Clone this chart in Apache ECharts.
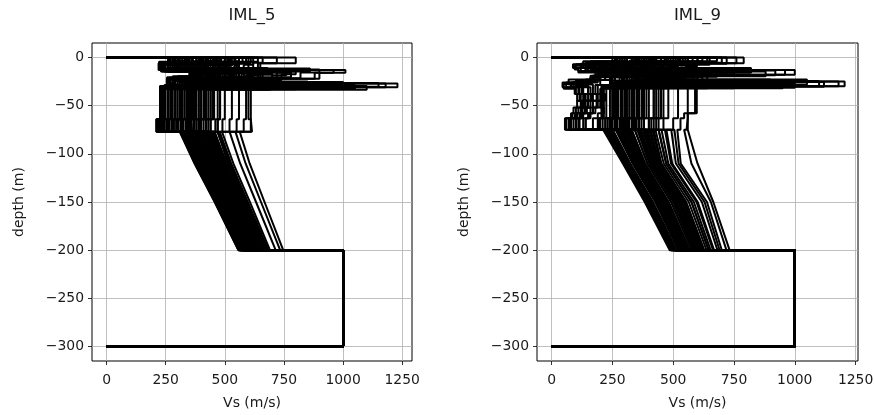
<!DOCTYPE html>
<html><head><meta charset="utf-8">
<script src="https://cdn.jsdelivr.net/npm/echarts@6/dist/echarts.min.js"></script>
<style>html,body{margin:0;padding:0;background:#fff}#c{width:874px;height:415px}</style>
</head><body><div id="c"></div>
<script>
// ---- shared ticks ----
const xTicks = [0, 250, 500, 750, 1000, 1250];
const yTicks = [0, -50, -100, -150, -200, -250, -300];
const titles = ['IML_5', 'IML_9'];
const xName = 'Vs (m/s)';
const yName = 'depth (m)';
const bedrockVs = 1000;
const bedrockTop = -200;
const profileBottom = -300;

// ---- IML_5 : layer boundaries (m) and Vs per layer for each profile ----
const iml5Bounds = [0, -6, -13, -16, -22, -27, -31, -64, -77];
const iml5Shift = [0,-1.5,1,-0.5,2,-2,0.5,1.5,-1,0,2.5,-2.5,1,-1.5,0,0.5,-0.5,2,-2,1.5,-1,0,1,-2,0.5,2,-1,-0.5,1.5,-1.5,
  0.5,-1,1.5,-2,0,1,-1.5,2,-0.5,1,-2.5,0,1.5,-1,2,-1.5,0.5,-0.5,2.5,-2,1,0,-1,0.5,-1.5,1.5,-0.5,2,-2,0];
const iml5L1 = [260,300,420,350,480,520,280,600,380,450,330,560,410,290,800,470,360,540,310,640,400,500,270,430,590,340,460,390,510,620,
  270,320,380,440,500,560,290,350,410,470,530,610,265,335,395,455,515,575,305,365,425,485,545,660,285,345,405,465,525,720];
const iml5L2 = [220,250,300,330,380,420,240,460,350,500,280,540,410,230,650,470,320,560,260,600,390,440,225,360,520,300,480,340,400,580,
  230,270,320,380,430,490,245,300,360,410,470,550,222,290,340,400,450,510,260,310,370,420,480,620,235,295,350,415,460,640];
const iml5L3 = [380,420,450,520,600,700,400,650,480,560,430,760,540,390,1010,620,470,680,410,860,500,580,385,460,720,440,610,490,530,800,
  390,430,480,540,600,680,400,460,520,570,640,780,385,450,500,550,620,700,420,470,530,590,660,900,395,455,510,580,630,960];
const iml5L4 = [350,400,430,480,560,640,380,600,450,520,410,700,500,370,900,580,440,620,390,780,470,540,360,430,660,420,570,460,500,740,
  360,400,450,500,560,620,370,430,480,530,590,720,355,420,470,520,580,650,390,440,490,550,610,820,365,425,475,540,600,880];
const iml5L5 = [255,280,320,360,400,450,270,480,340,420,300,500,380,260,560,430,330,470,290,520,370,410,265,350,460,310,440,345,390,490,
  258,290,330,370,410,460,265,310,350,395,440,510,256,300,340,385,425,475,280,320,360,405,450,530,262,305,345,400,445,545];
const iml5L6 = [260,300,500,420,650,800,280,900,450,700,350,1100,600,270,1230,750,400,850,320,1000,550,680,290,480,950,380,720,520,620,1050,
  270,330,430,520,620,760,290,380,470,580,690,980,265,360,440,540,650,820,310,400,500,600,720,1150,280,370,460,560,700,1180];
const iml5L7 = [228,250,300,340,380,420,240,450,320,400,270,500,360,235,610,430,310,470,260,560,350,390,232,330,480,290,440,345,370,530,
  230,260,300,345,390,440,238,280,320,365,410,480,226,270,310,355,400,455,245,290,330,375,420,590,234,275,315,360,415,600];
const iml5L8 = [212,240,280,320,360,410,230,440,300,390,255,490,350,222,615,420,295,460,245,550,340,380,218,315,470,275,430,335,365,520,
  215,245,285,325,370,420,225,265,305,345,390,470,210,255,295,335,380,440,235,275,315,355,400,580,220,260,300,340,395,610];
const iml5GradDepths = [-77, -110, -150, -200];
const iml5G1 = [309,328,384,351,412,431,318,469,365,398,342,450,380,323,563,408,356,441,333,488,375,422,314,389,464,347,403,370,427,478,
  314,337,365,394,422,450,323,351,380,408,436,474,311,344,372,401,429,457,330,358,387,415,443,520,321,349,377,406,434,545];
const iml5G2 = [372,389,441,411,466,484,380,519,423,454,402,501,437,385,605,463,415,493,394,536,432,475,377,446,514,407,458,428,480,527,
  377,398,423,450,476,501,385,411,437,463,488,523,374,404,430,456,482,508,391,417,444,469,495,565,383,409,434,461,487,588];
const iml5G3 = [457,473,519,492,542,558,464,590,503,531,484,574,516,469,668,539,496,567,477,606,512,551,461,523,586,489,535,508,555,597,
  461,480,503,528,551,574,469,492,516,539,562,594,459,486,509,533,557,580,474,498,522,545,568,632,467,490,513,538,561,653];
const iml5G4 = [557,571,613,588,634,648,564,677,599,624,582,662,610,567,747,631,592,656,575,691,606,642,561,617,674,585,627,603,645,684,
  561,578,599,621,642,662,567,588,610,631,652,680,558,583,604,626,647,668,573,594,615,636,657,715,566,587,608,630,651,734];

// ---- IML_9 ----
const iml9Bounds = [0, -6, -10, -13, -18, -25, -30, -38, -45, -52, -58, -63, -75];
const iml9Shift = [1,-1,0.5,-2,1.5,0,-0.5,2,-1.5,1,-2.5,0.5,2,-1,0,-2,1,-0.5,1.5,-1.5,2.5,0,-1,1,-2,0.5,1.5,-0.5,-1.5,2,
  -1,1.5,0,-2,2,-0.5,1,-1.5,0.5,2.5,-1,0,-2.5,1,-0.5,1.5,-2,0.5,2,-1,0,1,-1.5,-0.5,2,-2,0.5,1.5,-1,0];
const iml9L1  = [300,250,420,380,500,550,280,620,350,450,330,700,410,260,790,470,360,560,310,650,400,520,270,430,600,340,480,390,510,680,
  280,330,390,450,510,580,300,360,420,480,540,640,265,345,405,465,525,600,290,370,430,490,560,720,310,355,415,475,530,760];
const iml9L2  = [150,88,260,300,350,420,120,480,250,400,200,520,330,100,597,440,280,500,180,560,320,380,130,290,460,220,410,310,370,540,
  120,180,240,300,360,430,140,210,270,330,400,500,95,195,255,315,380,460,130,225,285,345,415,560,160,205,265,325,390,580];
const iml9L3  = [180,110,240,280,330,400,140,450,230,380,190,500,310,120,560,420,260,470,170,530,300,360,150,270,440,210,390,290,350,510,
  140,200,250,300,350,420,160,220,270,320,390,480,110,210,260,310,370,450,150,230,280,340,400,530,175,215,265,315,380,550];
const iml9L4  = [300,320,400,450,520,600,310,650,420,560,360,750,480,295,1000,620,440,700,340,880,500,580,330,430,680,380,610,470,540,820,
  310,360,420,480,550,630,320,390,450,510,590,720,300,380,440,500,570,660,315,400,460,520,610,920,330,385,445,505,580,960];
const iml9L5  = [200,160,300,330,380,430,180,470,290,410,240,520,350,170,640,450,310,490,220,580,340,400,190,320,480,260,440,330,390,550,
  170,220,280,330,380,440,190,250,300,350,410,500,160,240,290,340,395,470,180,260,310,360,420,600,200,245,295,345,400,620];
const iml9L6  = [100,45,500,420,650,800,90,900,450,700,300,1100,600,60,1205,750,400,850,200,1000,550,680,120,480,950,350,720,520,620,1050,
  80,250,380,480,600,740,110,300,420,540,680,950,50,280,400,500,640,820,70,320,440,560,700,1120,140,290,410,520,660,1180];
const iml9L7  = [130,100,240,270,320,370,150,420,250,350,200,460,300,110,597,400,260,440,180,520,290,340,160,265,430,210,380,285,330,480,
  115,190,250,290,335,390,150,215,265,310,360,450,95,205,255,300,350,420,125,225,275,320,375,560,170,210,260,305,355,590];
const iml9L8  = [150,120,240,270,320,370,170,420,250,350,190,460,300,130,597,400,260,440,160,520,290,340,140,265,430,220,380,285,330,480,
  135,200,250,290,335,390,165,215,265,310,360,450,115,205,255,300,350,420,105,225,275,320,375,560,185,210,260,305,355,590];
const iml9L9  = [170,105,240,270,320,370,140,420,250,350,210,460,300,150,597,400,260,440,190,520,290,340,125,265,430,200,380,285,330,480,
  160,185,250,290,335,390,130,215,265,310,360,450,135,205,255,300,350,420,120,225,275,320,375,560,150,210,260,305,355,590];
const iml9L10 = [140,90,240,270,320,370,160,420,250,350,180,460,300,120,597,400,260,440,170,520,290,340,110,265,430,215,380,285,330,480,
  125,170,250,290,335,390,145,215,265,310,360,450,100,205,255,300,350,420,140,225,275,320,375,560,135,210,260,305,355,590];
const iml9L11 = [120,80,240,270,320,370,130,420,250,350,160,460,300,100,560,400,260,440,150,520,290,340,95,265,430,190,380,285,330,480,
  105,155,250,290,335,390,120,215,265,310,360,450,85,205,255,300,350,420,115,225,275,320,375,545,125,210,260,305,355,560];
const iml9L12 = [100,55,220,250,300,350,110,400,230,330,140,440,280,80,560,380,240,420,130,500,270,320,70,245,410,170,360,265,310,460,
  90,140,230,270,315,370,100,200,250,295,345,430,60,190,240,285,335,400,75,210,260,305,360,530,115,195,245,290,340,555];
const iml9GradDepths = [-75, -110, -150, -200];
const iml9G1 = [245,212,323,297,375,407,232,452,277,342,264,505,316,219,563,355,284,414,251,472,310,388,225,329,440,271,362,303,381,492,
  232,264,303,342,381,427,245,284,323,362,401,466,222,274,313,352,391,440,238,290,329,368,414,517,251,280,319,358,394,545];
const iml9G2 = [319,293,380,359,420,445,309,480,344,394,334,522,374,298,600,405,349,451,323,496,369,430,303,384,471,339,410,364,425,511,
  309,334,364,394,425,461,319,349,380,410,440,491,301,341,372,402,433,471,313,354,384,415,451,531,323,346,376,407,435,575];
const iml9G3 = [411,383,476,454,520,547,400,585,438,492,427,629,470,389,665,503,443,553,416,601,465,531,394,481,575,433,509,459,525,618,
  400,427,459,492,525,564,411,443,476,509,542,596,391,435,468,501,533,575,405,449,481,514,553,639,416,440,473,506,536,655];
const iml9G4 = [509,486,564,546,600,623,500,654,532,577,522,691,559,491,732,586,536,627,513,668,555,609,495,568,646,527,591,550,604,682,
  500,522,550,577,604,637,509,536,564,591,618,664,493,529,557,584,611,646,504,541,568,595,627,700,513,534,561,588,613,719];

// ---- build profile polylines from the arrays ----
function buildProfiles(bounds, shift, layers, gradDepths, grads) {
  const out = [];
  const n = layers[0].length;
  for (let i = 0; i < n; i++) {
    const b = bounds.map(d => (d < 0 && d > -35 ? d + shift[i] : d));
    const pts = [[0, b[0]]];
    for (let k = 0; k < layers.length; k++) {
      pts.push([layers[k][i], b[k]]);
      pts.push([layers[k][i], b[k + 1]]);
    }
    for (let k = 0; k < gradDepths.length; k++) pts.push([grads[k][i], gradDepths[k]]);
    pts.push([bedrockVs, bedrockTop]);
    pts.push([bedrockVs, profileBottom]);
    pts.push([0, profileBottom]);
    out.push(pts);
  }
  return out;
}
const profiles5 = buildProfiles(iml5Bounds, iml5Shift,
  [iml5L1, iml5L2, iml5L3, iml5L4, iml5L5, iml5L6, iml5L7, iml5L8],
  iml5GradDepths, [iml5G1, iml5G2, iml5G3, iml5G4]);
const profiles9 = buildProfiles(iml9Bounds, iml9Shift,
  [iml9L1, iml9L2, iml9L3, iml9L4, iml9L5, iml9L6, iml9L7, iml9L8, iml9L9, iml9L10, iml9L11, iml9L12],
  iml9GradDepths, [iml9G1, iml9G2, iml9G3, iml9G4]);

const FONT = "'DejaVu Sans', sans-serif";
const fmt = v => (v < 0 ? '\u2212' + (-v) : String(v));
const grids = [
  { left: 92, top: 43, width: 320, height: 318 },
  { left: 537, top: 43, width: 321, height: 318 }
];
const xRanges = [[-61.5, 1291.5], [-60, 1260]];

function xAxisFor(i) {
  return {
    gridIndex: i, type: 'value', min: xRanges[i][0], max: xRanges[i][1],
    name: xName, nameLocation: 'middle', nameGap: 35,
    nameTextStyle: { fontFamily: FONT, fontSize: 14, color: '#1a1a1a' },
    axisLine: { show: false, onZero: false },
    axisTick: { show: true, customValues: xTicks, length: 4, lineStyle: { color: '#000', width: 0.8 } },
    axisLabel: { customValues: xTicks, formatter: fmt, margin: 12, fontFamily: FONT, fontSize: 13.9, color: '#1a1a1a', showMinLabel: true, showMaxLabel: true },
    splitLine: { show: true, lineStyle: { color: '#b0b0b0', width: 0.8 } }
  };
}
function yAxisFor(i) {
  return {
    gridIndex: i, type: 'value', min: -315, max: 15,
    name: yName, nameLocation: 'middle', nameGap: 66, nameRotate: 90,
    nameTextStyle: { fontFamily: FONT, fontSize: 14, color: '#1a1a1a' },
    axisLine: { show: false, onZero: false },
    axisTick: { show: true, customValues: yTicks, length: 4, lineStyle: { color: '#000', width: 0.8 } },
    axisLabel: { customValues: yTicks, formatter: fmt, margin: 8, fontFamily: FONT, fontSize: 13.9, color: '#1a1a1a' },
    splitLine: { show: true, lineStyle: { color: '#b0b0b0', width: 0.8 } }
  };
}

const series = [];
[profiles5, profiles9].forEach((profs, gi) => {
  profs.forEach(pts => {
    series.push({
      type: 'line', xAxisIndex: gi, yAxisIndex: gi, data: pts,
      showSymbol: false, symbol: 'none', silent: true, clip: true,
      lineStyle: { color: '#000', width: 2 }, z: 3
    });
  });
});

const chart = echarts.init(document.getElementById('c'), null, { renderer: 'canvas' });
chart.setOption({
  animation: false,
  backgroundColor: '#fff',
  grid: grids.map(g => Object.assign({ show: true, borderColor: '#000', borderWidth: 1, backgroundColor: 'transparent', containLabel: false, outerBoundsMode: 'none' }, g)),
  xAxis: [xAxisFor(0), xAxisFor(1)],
  yAxis: [yAxisFor(0), yAxisFor(1)],
  graphic: titles.map((t, i) => ({
    type: 'text',
    x: grids[i].left + grids[i].width / 2, y: 16,
    style: { text: t, fontFamily: FONT, fontSize: 16.5, fill: '#1a1a1a', align: 'center', verticalAlign: 'middle' }
  })),
  series
});
</script></body></html>
